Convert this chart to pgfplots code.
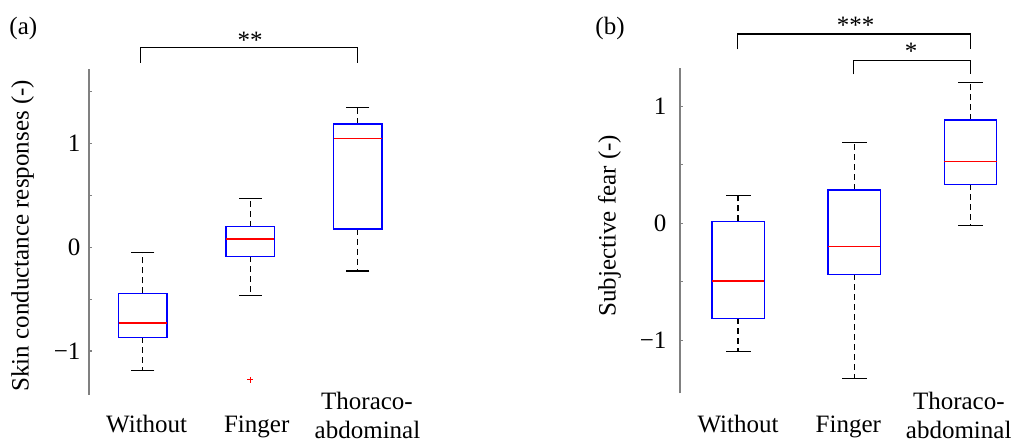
\documentclass[border=0pt]{standalone}
\usepackage{pgfplots}
\pgfplotsset{compat=1.18}
\usepgfplotslibrary{statistics}
\usepackage{fontspec}
\setmainfont{Liberation Serif}

\pgfplotsset{
  mybox/.style={
    scale only axis, axis x line=none, axis y line*=left,
    y axis line style={-, draw=black!50, line width=1.2pt},
    ytick style={draw=black!50, line width=1.2pt},
    tick align=inside, major tick length=3pt,
    xmin=0.5, xmax=3.5, xtick=\empty,
    clip=false,
    boxplot/draw direction=y,
    boxplot/every box/.style={draw=blue, line width=1.3pt},
    boxplot/every median/.style={draw=red, line width=1.3pt},
    boxplot/every whisker/.style={draw=black, line width=1.4pt, dash pattern=on 6pt off 4pt},
    boxplot/box extend=0.45, boxplot/whisker extend=0,
  }
}

\begin{document}
\fontsize{25}{29}\selectfont
\begin{tikzpicture}
\path[use as bounding box] (0pt,0pt) rectangle (1014pt,447pt);

% ---------------- (a) ----------------
\begin{axis}[mybox, at={(89pt,52pt)}, anchor=south west,
  width=322.5pt, height=325.7pt, ymin=-1.424, ymax=1.717,
  ytick={-1,-0.5,0,0.5,1,1.5},
  yticklabels={{−1},{},{0},{},{1},{}}]
\addplot[boxplot prepared={draw position=1, median=-0.730, upper quartile=-0.444,
  lower quartile=-0.868, upper whisker=-0.048, lower whisker=-1.186}] coordinates {};
\addplot[red, mark=+, mark size=3pt, line width=1.2pt,
  boxplot prepared={draw position=2, median=0.080, upper quartile=0.199,
  lower quartile=-0.087, upper whisker=0.469, lower whisker=-0.466}]
  table[row sep=\\, y index=0] {data\\ -1.277\\};
\addplot[boxplot prepared={draw position=3, median=1.048, upper quartile=1.190,
  lower quartile=0.177, upper whisker=1.350, lower whisker=-0.228}] coordinates {};
\addplot[only marks, mark=-, mark size=11.5pt, black, line width=1.2pt]
  coordinates {(1,-0.048) (1,-1.186) (2,0.469) (2,-0.466) (3,1.350) (3,-0.228)};
\end{axis}

% ---------------- (b) ----------------
\begin{axis}[mybox, at={(680pt,53.7pt)}, anchor=south west,
  width=348.5pt, height=325pt, ymin=-1.453, ymax=1.325,
  ytick={-1,-0.5,0,0.5,1},
  yticklabels={{−1},{},{0},{},{1}},
  yticklabel style={xshift=-5pt}]
\addplot[boxplot prepared={draw position=1, median=-0.493, upper quartile=0.017,
  lower quartile=-0.812, upper whisker=0.236, lower whisker=-1.094}] coordinates {};
\addplot[boxplot prepared={draw position=2, median=-0.199, upper quartile=0.285,
  lower quartile=-0.436, upper whisker=0.689, lower whisker=-1.328}] coordinates {};
\addplot[boxplot prepared={draw position=3, median=0.530, upper quartile=0.883,
  lower quartile=0.333, upper whisker=1.205, lower whisker=-0.020}] coordinates {};
\addplot[only marks, mark=-, mark size=12.5pt, black, line width=1.2pt]
  coordinates {(1,0.236) (1,-1.094) (2,0.689) (2,-1.328) (3,1.205) (3,-0.020)};
\end{axis}

\begin{scope}[x=1pt,y=1pt]
% panel letters
\node[anchor=base, inner sep=0pt] at (23.3,412) {(a)};
\node[anchor=base, inner sep=0pt] at (610,412) {(b)};

% y labels
\node[anchor=base, rotate=90, inner sep=0pt] at (28.5,211.2) {Skin conductance responses (-)};
\node[anchor=base, rotate=90, inner sep=0pt] at (615.5,221.2) {Subjective fear (-)};

% x labels (a)
\node[anchor=base, inner sep=0pt] at (146.7,15) {Without};
\node[anchor=base, inner sep=0pt] at (256.7,15) {Finger};
\node[anchor=base, inner sep=0pt] at (367,37.5) {Thoraco-};
\node[anchor=base, inner sep=0pt] at (367.5,8.3) {abdominal};
% x labels (b)
\node[anchor=base, inner sep=0pt] at (738,15) {Without};
\node[anchor=base, inner sep=0pt] at (848.3,15) {Finger};
\node[anchor=base, inner sep=0pt] at (958.8,37.5) {Thoraco-};
\node[anchor=base, inner sep=0pt] at (958.7,8.3) {abdominal};

% significance brackets
\draw[black, line width=1.2pt] (140.7,384.3) -- (140.7,399.7) -- (357.7,399.7) -- (357.7,384.3);
\node[anchor=base, inner sep=0pt] at (250,398.7) {**};
\draw[black, line width=1.2pt] (737.3,397.7) -- (737.3,413) -- (970.7,413) -- (970.7,397.7);
\node[anchor=base, inner sep=0pt] at (855.7,413) {***};
\draw[black, line width=1.2pt] (853.3,372.7) -- (853.3,386.3) -- (970.7,386.3) -- (970.7,372.7);
\node[anchor=base, inner sep=0pt] at (911,387) {*};
\end{scope}
\end{tikzpicture}
\end{document}
